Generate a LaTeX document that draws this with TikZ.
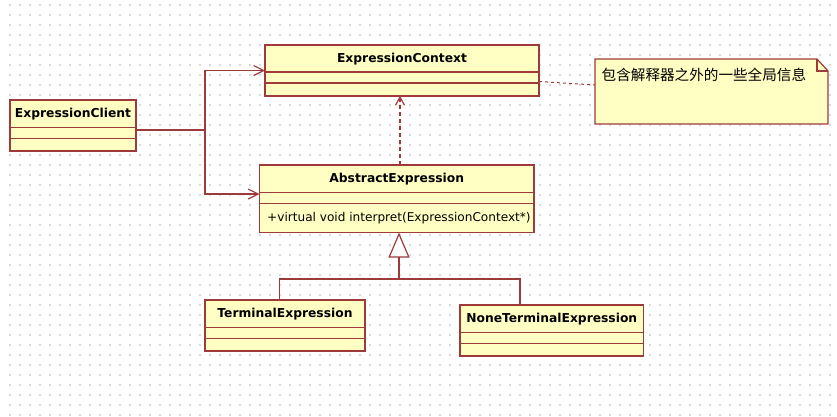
\documentclass[tikz,border=0pt]{standalone}
\usepackage{fontspec}
\setmainfont{DejaVu Sans}
\newfontfamily\cjkfont{Noto Sans CJK SC}
\usetikzlibrary{positioning,arrows.meta}
\definecolor{umlborder}{HTML}{9E3A3A}
\definecolor{umlfill}{HTML}{FFFFC3}
\definecolor{griddot}{HTML}{DADADA}
\begin{document}
\begin{tikzpicture}[x=1pt,y=-1pt,
        classbox/.style={draw=umlborder,fill=umlfill,line width=1.2pt,inner sep=0pt,outer sep=0pt,minimum height=51pt},
        classname/.style={font=\fontsize{12.3}{14}\selectfont\bfseries,inner sep=0pt,minimum height=27pt},
        methodtext/.style={font=\fontsize{12.1}{14}\selectfont,inner sep=0pt},
        divider/.style={draw=umlborder,line width=1.2pt},
        umlline/.style={draw=umlborder,line width=1.2pt},
        assoc/.style={umlline,-{Straight Barb[length=10pt,width=10pt]}},
        depend/.style={umlline,dash pattern=on 4pt off 3pt,-{Straight Barb[length=8pt,width=9pt]}},
        inherit/.style={umlline,-{Triangle[open,fill=white,length=25pt,width=21pt]}},
        notelink/.style={draw=umlborder,line width=1pt,dash pattern=on 3pt off 3pt}]
    \useasboundingbox (0,0) rectangle (837,416);
    % grid
    \foreach \x in {10,20,...,830}
        {
            \foreach \y in {5,15,...,415}
                {
                    \fill[griddot] (\x-0.7,\y-0.7) rectangle +(1.4,1.4);
                }
        }
    % classes
    \node[classbox,minimum width=274pt] (context) at (402,70.5) {};
    \node[classname,below=0pt of context.north] (contexttitle) {ExpressionContext};
    \draw[divider] ([yshift=-27pt]context.north west) -- ([yshift=-27pt]context.north east);
    \draw[divider] ([yshift=-38pt]context.north west) -- ([yshift=-38pt]context.north east);

    \node[classbox,minimum width=126pt] (client) at (73,125.5) {};
    \node[classname,below=0pt of client.north] (clienttitle) {ExpressionClient};
    \draw[divider] ([yshift=-27.5pt]client.north west) -- ([yshift=-27.5pt]client.north east);
    \draw[divider] ([yshift=-38.5pt]client.north west) -- ([yshift=-38.5pt]client.north east);

    \node[classbox,minimum width=274.5pt,minimum height=67.5pt] (abstract) at (396.75,198.75) {};
    \node[classname,below=0pt of abstract.north] (abstracttitle) {AbstractExpression};
    \draw[divider] ([yshift=-27.5pt]abstract.north west) -- ([yshift=-27.5pt]abstract.north east);
    \draw[divider] ([yshift=-38.5pt]abstract.north west) -- ([yshift=-38.5pt]abstract.north east);
    \node[methodtext,anchor=west] (interpret) at ([xshift=7.5pt,yshift=-19pt]abstract.west) {+virtual void interpret(ExpressionContext*)};

    \node[classbox,minimum width=160pt] (terminal) at (285,325.5) {};
    \node[classname,below=0pt of terminal.north] (terminaltitle) {TerminalExpression};
    \draw[divider] ([yshift=-27.5pt]terminal.north west) -- ([yshift=-27.5pt]terminal.north east);
    \draw[divider] ([yshift=-38.5pt]terminal.north west) -- ([yshift=-38.5pt]terminal.north east);

    \node[classbox,minimum width=183.5pt] (noneterminal) at (551.75,330.5) {};
    \node[classname,below=0pt of noneterminal.north] (noneterminaltitle) {NoneTerminalExpression};
    \draw[divider] ([yshift=-27.5pt]noneterminal.north west) -- ([yshift=-27.5pt]noneterminal.north east);
    \draw[divider] ([yshift=-38.5pt]noneterminal.north west) -- ([yshift=-38.5pt]noneterminal.north east);

    % note
    \node[inner sep=0pt,outer sep=0pt,minimum width=233pt,minimum height=65pt] (note) at (711.5,91.5) {};
    \draw[umlline,fill=umlfill] (note.south west) -- (note.north west) -- ([xshift=-11pt]note.north east)
        -- ([yshift=-12pt]note.north east) -- (note.south east) -- cycle;
    \draw[umlline] ([xshift=-11pt]note.north east) |- ([yshift=-12pt]note.north east);
    \node[inner sep=0pt,anchor=west,font=\cjkfont\fontsize{14.6}{16}\selectfont] (notetext)
        at ([xshift=6.5pt,yshift=-16pt]note.north west) {包含解释器之外的一些全局信息};

    % connectors
    \coordinate (fork) at (205,130);
    \draw[umlline] ([yshift=-4.5pt]client.east) -- (fork);
    \draw[assoc] (fork) |- (context.west);
    \draw[assoc] (fork) |- ([yshift=4.75pt]abstract.west);
    \draw[depend] ([xshift=3.25pt]abstract.north) -- ([xshift=-2pt]context.south);
    \draw[notelink] ([yshift=-11pt]context.east) -- ([yshift=6.5pt]note.west);
    \coordinate (join) at (399,279);
    \draw[umlline] ([xshift=-5.7pt]terminal.north) |- (join) -| ([xshift=-31.75pt]noneterminal.north);
    \draw[inherit] (join) -- ([xshift=2.25pt]abstract.south);
\end{tikzpicture}
\end{document}
